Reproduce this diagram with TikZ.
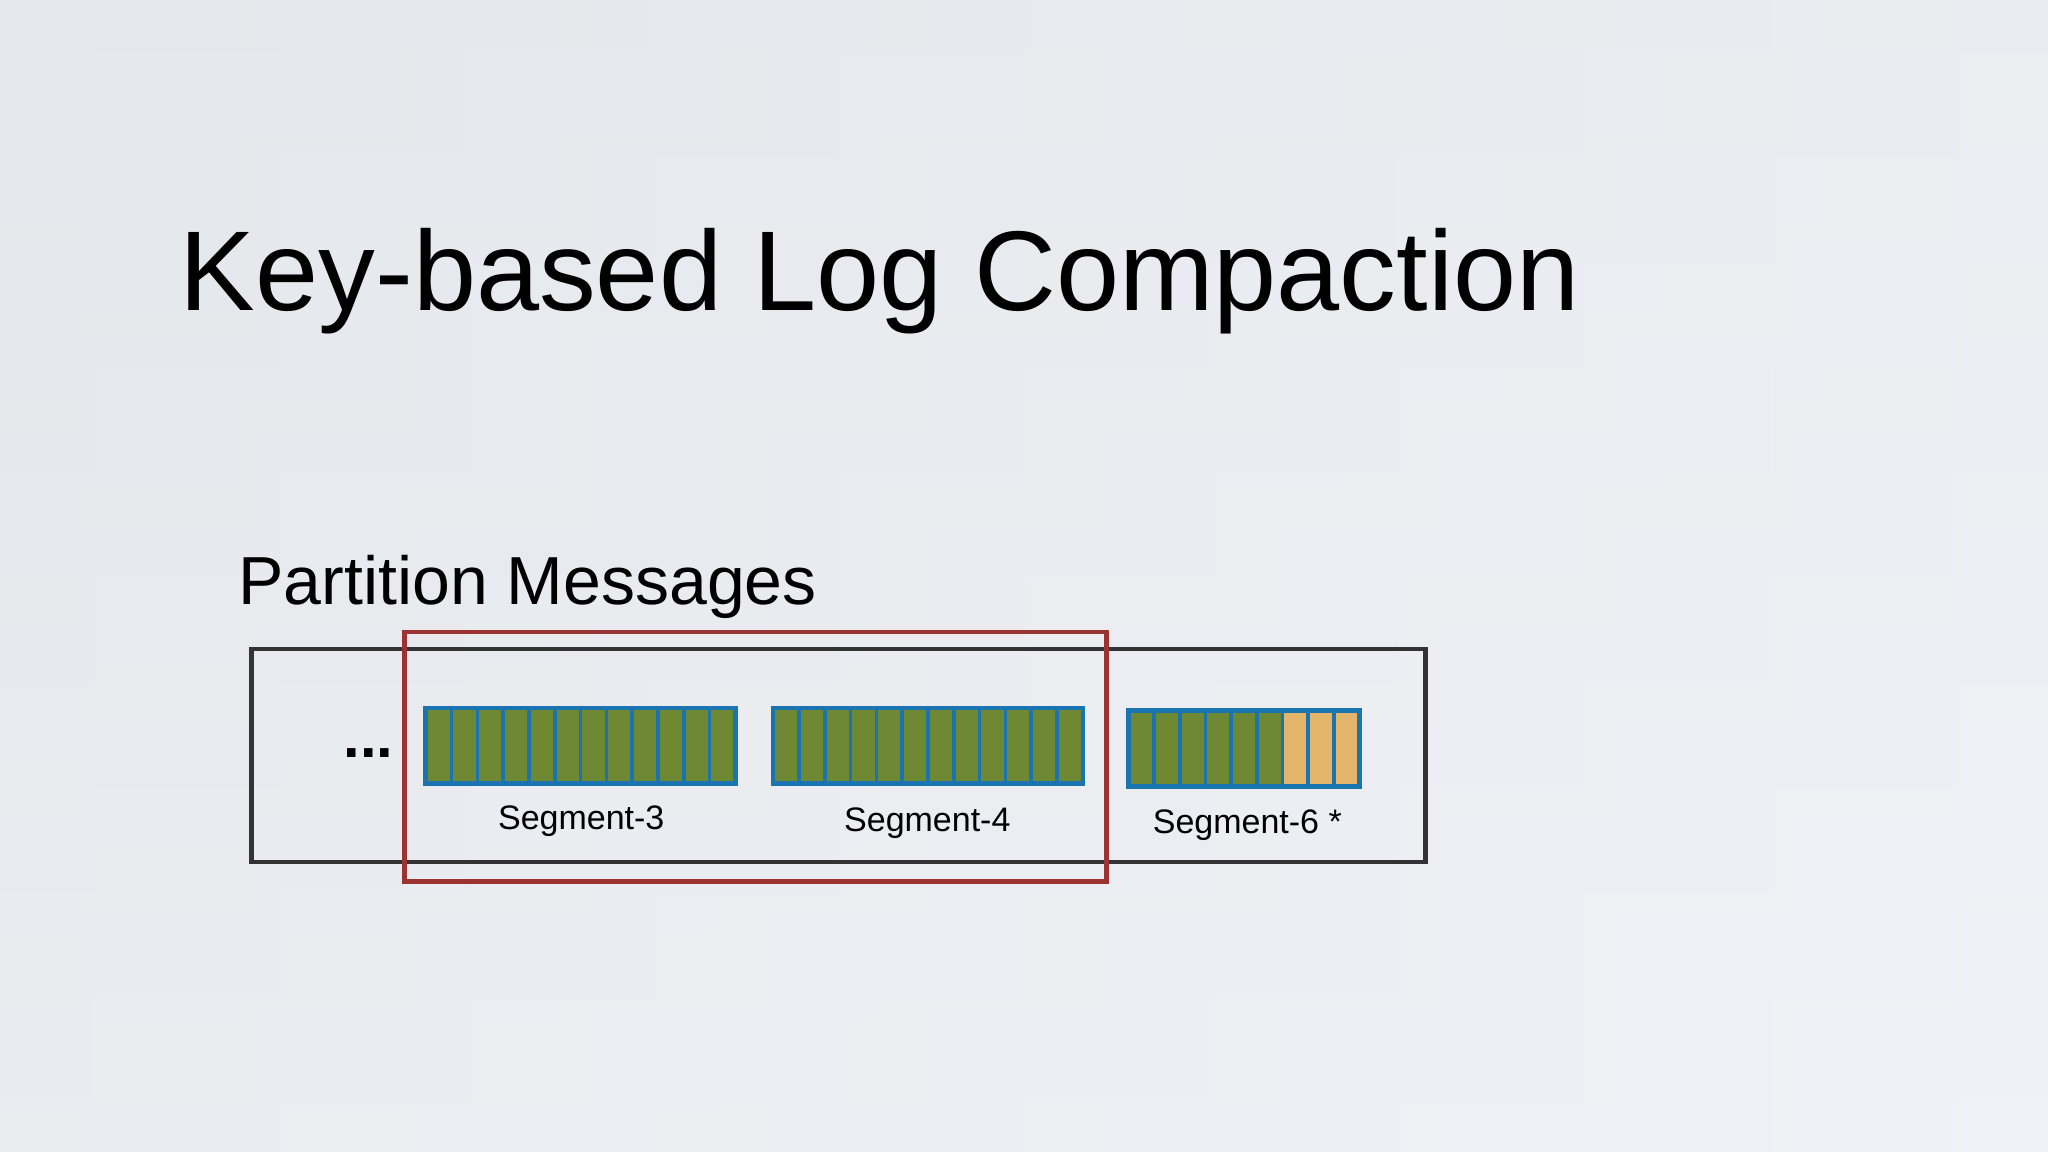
\documentclass[tikz,border=0pt]{standalone}
\usepackage{fontspec}
\setmainfont{Liberation Sans}
\definecolor{bgA}{HTML}{E4E7EB}
\definecolor{bgB}{HTML}{F1F2F7}
\definecolor{cellG}{HTML}{6E8833}
\definecolor{cellT}{HTML}{E2B56A}
\definecolor{segB}{HTML}{1A74B0}
\definecolor{redB}{HTML}{9B3333}
\definecolor{boxK}{HTML}{333333}
\begin{document}
\begin{tikzpicture}[x=0.01cm,y=-0.01cm,
  cell/.style={fill=#1,draw=segB,line width=0.8pt},
  seglabel/.style={font=\fontsize{7.4pt}{8pt}\selectfont,inner sep=0pt}]
\useasboundingbox (0,0) rectangle (1568,882);
\shade[top color=bgA,bottom color=bgB] (0,0) rectangle (1568,882);
\shade[left color=bgA,right color=bgB,opacity=0.5] (0,0) rectangle (1568,882);
\node[anchor=base west,inner sep=0pt,font=\fontsize{24.7pt}{30pt}\selectfont] (title) at (137,238) {Key-based Log Compaction};
\node[anchor=base west,inner sep=0pt,font=\fontsize{14.8pt}{18pt}\selectfont] (part) at (182,463) {Partition Messages};
\node[draw=boxK,line width=1pt,minimum width=8.98cm,minimum height=1.63cm,inner sep=0pt] (outer) at (642,578.5) {};
\node[draw=redB,line width=1pt,minimum width=5.37cm,minimum height=1.91cm,inner sep=0pt] (red) at (578.5,579.5) {};
\node[font=\bfseries\fontsize{13pt}{14pt}\selectfont,anchor=base,inner sep=0pt] (dots) at (282,580) {...};
% Segment-3
\foreach \i in {0,...,11}{\draw[cell=cellG] ({326+\i*19.75},542) rectangle ({326+(\i+1)*19.75},600);}
\node[draw=segB,line width=1pt,minimum width=2.37cm,minimum height=0.58cm,inner sep=0pt] (s3) at (444.5,571) {};
\node[seglabel] (l3) at (445,629) {Segment-3};
% Segment-4
\foreach \i in {0,...,11}{\draw[cell=cellG] ({592+\i*19.75},542) rectangle ({592+(\i+1)*19.75},600);}
\node[draw=segB,line width=1pt,minimum width=2.37cm,minimum height=0.58cm,inner sep=0pt] (s4) at (710.5,571) {};
\node[seglabel] (l4) at (710,630) {Segment-4};
% Segment-6
\foreach \i in {0,...,5}{\draw[cell=cellG] ({864+\i*19.67},544) rectangle ({864+(\i+1)*19.67},602);}
\foreach \i in {6,...,8}{\draw[cell=cellT] ({864+\i*19.67},544) rectangle ({864+(\i+1)*19.67},602);}
\node[draw=segB,line width=1pt,minimum width=1.77cm,minimum height=0.58cm,inner sep=0pt] (s6) at (952.5,573) {};
\node[seglabel] (l6) at (955,632) {Segment-6 *};
\end{tikzpicture}
\end{document}
